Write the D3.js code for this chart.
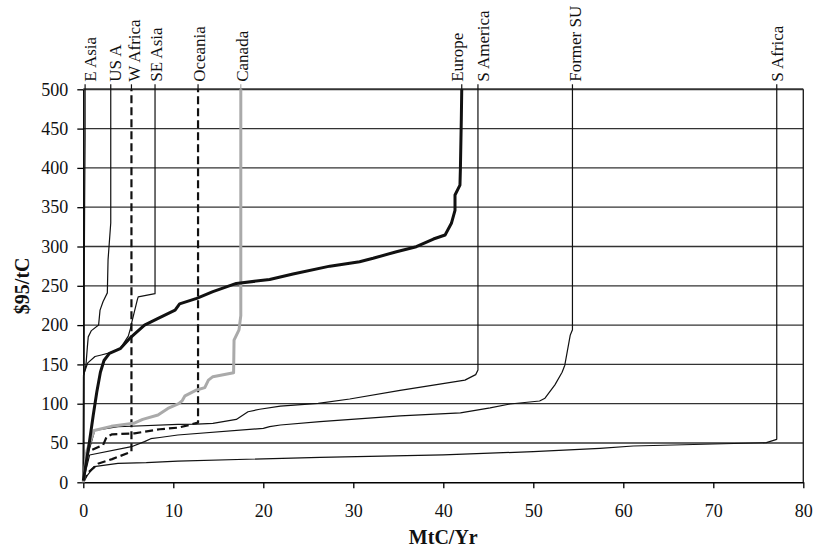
<!DOCTYPE html>
<html>
<head>
<meta charset="utf-8">
<script src="https://cdn.jsdelivr.net/npm/d3@7"></script>
<style>
  body { margin: 0; background: #fff; }
  svg { display: block; font-family: "Liberation Serif", "Times New Roman", serif; }
</style>
</head>
<body>
<svg id="chart" width="814" height="553"></svg>
<script>
// cost curves per region, [MtC/Yr, $95/tC]
const eAsia = [[0, 0], [0.05, 100], [0.1, 250], [0.15, 360], [0.2, 440], [0.2, 500]]
const usA = [[0, 0], [0.02, 136], [0.15, 141], [0.3, 150], [0.45, 172], [0.55, 185], [0.9, 193],
    [1.7, 200], [1.86, 219], [2.2, 230], [2.67, 241], [2.75, 283], [3.05, 330], [3.05, 500]]
const wAfrica = [[0, 0], [0.5, 12], [1.7, 24], [3.2, 29.5], [5.35, 39], [5.35, 500]]
const seAsia = [[0, 0], [0.03, 135], [0.15, 141], [0.5, 152], [1.3, 160], [2.0, 162], [3.0, 165],
    [4.1, 170], [5.0, 186], [5.3, 198], [5.4, 204], [6.0, 232], [6.1, 236], [7.97, 240], [7.97, 500]]
const oceania = [[0, 0], [0.35, 37], [0.75, 40], [2.2, 47.5], [2.6, 58], [3.2, 61], [5.7, 62.3],
    [8.5, 67.5], [10.5, 69.5], [11.6, 72.5], [12.75, 76], [12.75, 500]]
const canada = [[0, 0], [0.4, 40], [1.2, 66], [3.1, 71.2], [5.6, 75], [6.6, 80], [8.3, 85.6], [9.4, 94],
    [10.6, 100], [11.0, 104], [11.3, 110], [12.6, 117.5], [13.5, 120.5], [13.9, 130], [14.4, 134.4],
    [16.7, 139.4], [16.75, 181], [17.3, 194], [17.5, 212], [17.5, 500]]
const europe = [[0, 2], [0.6, 45], [1.1, 85], [1.5, 115], [1.9, 140], [2.3, 155], [2.9, 164], [4.1, 170],
    [5.15, 183], [6.8, 200], [8.2, 208], [10.2, 219], [10.7, 227], [12.6, 234], [14.4, 242.5], [17.0, 253],
    [20.7, 258], [23.3, 265], [27.4, 275], [30.7, 280.7], [32.2, 285], [34.8, 293.4], [37.0, 299.7],
    [38.9, 309.5], [40.2, 314.6], [40.9, 329.5], [41.3, 346], [41.3, 365.5], [41.85, 378], [41.9, 399],
    [42.0, 461], [42.05, 500]]
const sAmerica = [[0, 2], [0.5, 35], [1.27, 66], [3.85, 70.7], [10.5, 73.8], [12.6, 74], [14.4, 75],
    [17.0, 80], [18.3, 89.8], [19.6, 92.9], [21.9, 97], [26.1, 100.5], [29.6, 106], [35.2, 117],
    [39.6, 125], [42.4, 130], [43.6, 137], [43.85, 143], [43.85, 500]]
const formerSU = [[0, 2], [0.7, 34.7], [5.35, 45.3], [6.8, 51.7], [7.5, 55.5], [8.5, 57], [10.5, 60.2],
    [20, 68.7], [20.7, 70.8], [21.9, 72.9], [26.3, 77.1], [35.2, 84.6], [41.9, 88.4], [45.2, 94.6],
    [47.4, 99.6], [50.7, 103.4], [51.3, 107], [52.4, 124], [53.2, 140], [53.5, 149], [54.1, 187],
    [54.35, 194], [54.35, 500]]
const sAfrica = [[0, 2], [1.2, 20], [3.85, 24], [7.0, 25], [10.5, 27], [26.3, 31.8], [40, 35], [50, 39],
    [57.4, 43.2], [61.1, 46.2], [75.9, 50.4], [77.05, 54.7], [77.05, 500]]

const regionNames = ['E Asia', 'US A', 'W Africa', 'SE Asia', 'Oceania', 'Canada',
    'Europe', 'S America', 'Former SU', 'S Africa']
const regionPoints = [eAsia, usA, wAfrica, seAsia, oceania, canada, europe, sAmerica, formerSU, sAfrica]

const xTicks = [0, 10, 20, 30, 40, 50, 60, 70, 80]
const yTicks = [0, 50, 100, 150, 200, 250, 300, 350, 400, 450, 500]

// line styles, keyed by region
const styles = {
    'E Asia': { kind: 'thin', dx: 10.7 },
    'US A': { kind: 'thin', dx: 10.7 },
    'W Africa': { kind: 'dash', dx: 8.3 },
    'SE Asia': { kind: 'thin', dx: 6.7 },
    'Oceania': { kind: 'dash', dx: 7.3 },
    'Canada': { kind: 'gray', dx: 7.6 },
    'Europe': { kind: 'thick', dx: 1.5 },
    'S America': { kind: 'thin', dx: 11 },
    'Former SU': { kind: 'thin', dx: 8.3 },
    'S Africa': { kind: 'thin', dx: 6.7 },
}
const KIND = {
    thin: { stroke: '#111', width: 1.2, dash: null, order: 0 },
    dash: { stroke: '#111', width: 2.2, dash: '8,4', order: 1 },
    gray: { stroke: '#aaa', width: 3, dash: null, order: 2 },
    thick: { stroke: '#111', width: 3, dash: null, order: 3 },
}

const svg = d3.select('#chart')
const width = 814, height = 553
const margin = { top: 89.3, right: 10.7, bottom: 70.7, left: 83.3 }
const w = width - margin.left - margin.right
const h = height - margin.top - margin.bottom

const g = svg.append('g').attr('transform', `translate(${margin.left},${margin.top})`)

const x = d3.scaleLinear().domain([0, 80]).range([0, w])
const y = d3.scaleLinear().domain([0, 500]).range([h, 0])

// gridlines
g.append('g')
    .selectAll('line')
    .data(yTicks.filter(v => v > 0 && v < 500))
    .join('line')
    .attr('x1', 0).attr('x2', w)
    .attr('y1', d => y(d)).attr('y2', d => y(d))
    .attr('stroke', '#333')
    .attr('stroke-width', 1.3)

// plot frame: top and right
g.append('line').attr('x1', 0).attr('x2', w).attr('y1', y(500)).attr('y2', y(500))
    .attr('stroke', '#333').attr('stroke-width', 2)
g.append('line').attr('x1', w).attr('x2', w).attr('y1', y(500)).attr('y2', h)
    .attr('stroke', '#222').attr('stroke-width', 1.4)

// axes
const xAxis = g.append('g')
    .attr('transform', `translate(0,${h})`)
    .call(d3.axisBottom(x).tickValues(xTicks).tickSize(6).tickPadding(15.5).tickSizeOuter(0))
const yAxis = g.append('g')
    .call(d3.axisLeft(y).tickValues(yTicks).tickSize(6).tickPadding(9).tickSizeOuter(0))

for (const ax of [xAxis, yAxis]) {
    ax.select('.domain').attr('stroke', '#000').attr('stroke-width', 1.5)
    ax.selectAll('.tick line').attr('stroke', '#000').attr('stroke-width', 1.3)
    ax.selectAll('.tick text')
        .attr('fill', '#111')
        .style('font-family', '"Liberation Serif", serif')
        .style('font-size', '18px')
}

// series
const series = regionNames.map((name, i) => ({ name, points: regionPoints[i], ...styles[name] }))
const line = d3.line().x(d => x(d[0])).y(d => y(d[1]))

const drawOrder = series.slice().sort((a, b) => KIND[a.kind].order - KIND[b.kind].order)
g.append('g')
    .attr('fill', 'none')
    .attr('stroke-linejoin', 'round')
    .selectAll('path')
    .data(drawOrder)
    .join('path')
    .attr('d', d => line(d.points))
    .attr('stroke', d => KIND[d.kind].stroke)
    .attr('stroke-width', d => KIND[d.kind].width)
    .attr('stroke-dasharray', d => KIND[d.kind].dash)

// region labels with short leader above the frame
const labels = g.append('g')
    .selectAll('g')
    .data(series)
    .join('g')
    .attr('transform', d => `translate(${x(d.points[d.points.length - 1][0])},${y(500)})`)

labels.append('line')
    .attr('y1', 0).attr('y2', -5)
    .attr('stroke', d => KIND[d.kind].stroke)
    .attr('stroke-width', 1.2)

labels.append('text')
    .attr('transform', d => `translate(${d.dx},-7.5) rotate(-90)`)
    .attr('fill', '#111')
    .style('font-size', '17px')
    .text(d => d.name)

// axis titles
svg.append('text')
    .attr('x', margin.left + w / 2)
    .attr('y', 544)
    .attr('text-anchor', 'middle')
    .attr('font-weight', 'bold')
    .style('font-size', '20px')
    .attr('fill', '#111')
    .text('MtC/Yr')

svg.append('text')
    .attr('transform', `translate(29,${margin.top + h / 2}) rotate(-90)`)
    .attr('text-anchor', 'middle')
    .attr('font-weight', 'bold')
    .style('font-size', '20px')
    .attr('fill', '#111')
    .text('$95/tC')
</script>
</body>
</html>
